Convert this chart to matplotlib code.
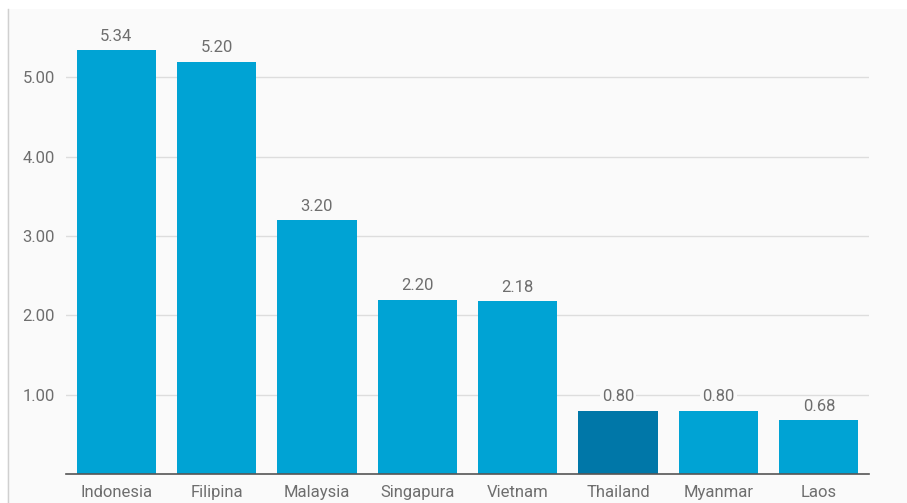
import matplotlib.pyplot as plt
from matplotlib.patches import Rectangle

countries = ['Indonesia', 'Filipina', 'Malaysia', 'Singapura', 'Vietnam',
             'Thailand', 'Myanmar', 'Laos']
values = [5.34, 5.20, 3.20, 2.20, 2.18, 0.80, 0.80, 0.68]
highlight = 'Thailand'
yticks = [1, 2, 3, 4, 5]

bg = '#fafafa'
plt.rcParams['font.family'] = ['Roboto', 'DejaVu Sans']

fig = plt.figure(figsize=(9.07, 5.03), dpi=100, facecolor='white')
# panel background with a thin left border, as in the screenshot
fig.patches.append(Rectangle((7 / 907, 0), 1, 494 / 503, transform=fig.transFigure,
                             facecolor=bg, edgecolor='none', zorder=-5))
fig.lines.append(plt.Line2D([7.5 / 907, 7.5 / 907], [0, 494 / 503], transform=fig.transFigure,
                            color='#d0d0d0', lw=1, zorder=-4))

ax = fig.add_axes([66 / 907, (503 - 474) / 503, 803 / 907, 464 / 503])
ax.set_zorder(5)
ax.set_facecolor(bg)

colors = ['#0077a8' if c == highlight else '#00a3d4' for c in countries]
bars = ax.bar(countries, values, width=0.79, color=colors, zorder=2)

for b, v in zip(bars, values):
    ax.text(b.get_x() + b.get_width() / 2, v + 0.08, f'{v:.2f}', ha='center', va='bottom',
            fontsize=12, color='#6e6e6e', zorder=3,
            bbox=dict(facecolor=bg, edgecolor='none', pad=1.5))

ax.set_xlim(-0.5, 7.5)
ax.set_ylim(0, 5.85)
ax.set_yticks(yticks)
ax.set_yticklabels([f'{t:.2f}' for t in yticks])
ax.yaxis.grid(True, color='#dddddd', lw=1, zorder=0)
ax.set_axisbelow(True)

for s in ['top', 'right', 'left']:
    ax.spines[s].set_visible(False)
ax.spines['bottom'].set_color('#555555')
ax.spines['bottom'].set_linewidth(1.2)
ax.tick_params(axis='both', length=0, labelsize=12, labelcolor='#6e6e6e')
ax.tick_params(axis='y', pad=8)
ax.tick_params(axis='x', pad=8)

fig.savefig('out.png', dpi=100, facecolor='white')
